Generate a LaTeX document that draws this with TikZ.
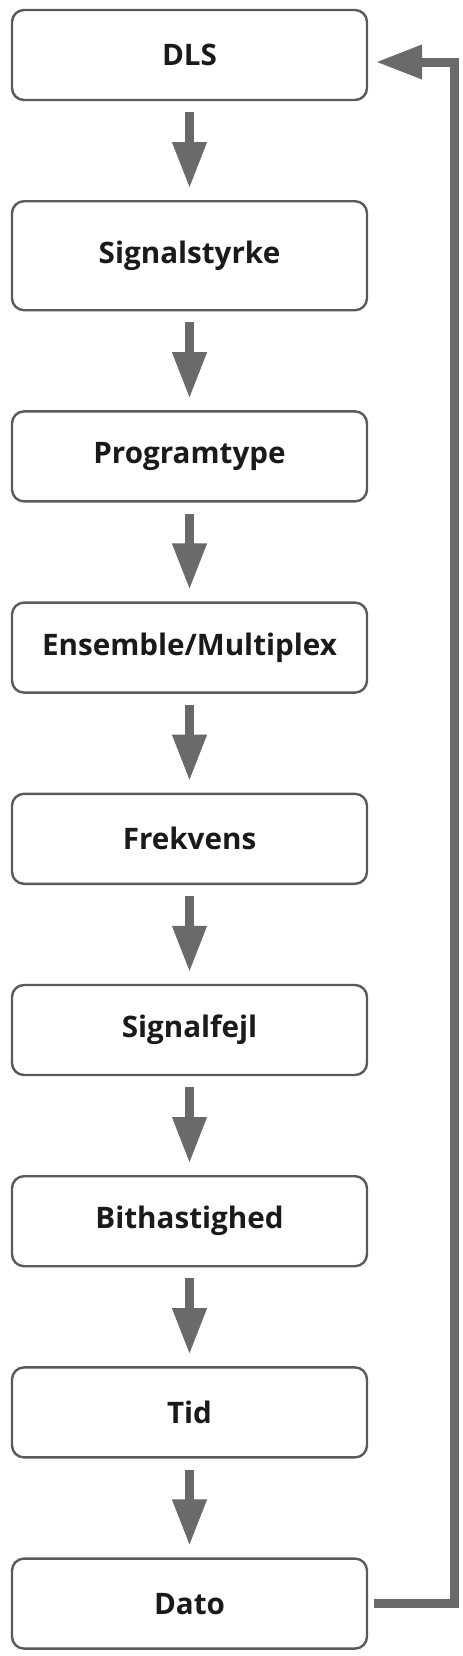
\documentclass[tikz,border=0pt]{standalone}
\usepackage{fontspec}
\setmainfont{Open Sans}
\usetikzlibrary{positioning,arrows.meta}
\definecolor{boxline}{HTML}{5a5a5a}
\definecolor{flowgray}{HTML}{6a6a6a}
\definecolor{txt}{HTML}{1a1a1a}
\tikzset{
  stage/.style={draw=boxline, line width=1.2pt, rounded corners=6pt,
    minimum width=177.5pt, minimum height=45pt, fill=white, text=txt,
    font=\fontsize{14.8}{17}\selectfont\bfseries},
  flow/.style={draw=flowgray, line width=4.5pt,
    -{Triangle[width=17.5pt,length=22.5pt,line width=0.4pt]}},
}

\begin{document}
\begin{tikzpicture}[node distance=49.4pt]
  \useasboundingbox (0,0) rectangle (231pt,-828pt);
  % Define nodes
  \node[stage] (dls) at (94.75pt,-27.5pt) {DLS};
  \node[stage, below=of dls, minimum height=54.5pt] (sig) {Signalstyrke};
  \node[stage, below=of sig]  (prog) {Programtype};
  \node[stage, below=of prog] (ens)  {Ensemble/Multiplex};
  \node[stage, below=of ens]  (frek) {Frekvens};
  \node[stage, below=of frek] (fejl) {Signalfejl};
  \node[stage, below=of fejl] (bit)  {Bithastighed};
  \node[stage, below=of bit]  (tid)  {Tid};
  \node[stage, below=of tid]  (dato) {Dato};
  \coordinate (back) at ([xshift=43pt]dato.east);
  % Connect the nodes
  \draw[flow, shorten <=5.5pt, shorten >=6.5pt] (dls) -- (sig);
  \draw[flow, shorten <=5.5pt, shorten >=6.5pt] (sig) -- (prog);
  \draw[flow, shorten <=5.5pt, shorten >=6.5pt] (prog) -- (ens);
  \draw[flow, shorten <=5.5pt, shorten >=6.5pt] (ens) -- (frek);
  \draw[flow, shorten <=5.5pt, shorten >=6.5pt] (frek) -- (fejl);
  \draw[flow, shorten <=5.5pt, shorten >=6.5pt] (fejl) -- (bit);
  \draw[flow, shorten <=5.5pt, shorten >=6.5pt] (bit) -- (tid);
  \draw[flow, shorten <=5.5pt, shorten >=6.5pt] (tid) -- (dato);
  \draw[flow, shorten >=4.5pt] ([xshift=3pt]dato.east) -- (back)
    |- ([yshift=-3.5pt]dls.east);
\end{tikzpicture}
\end{document}
